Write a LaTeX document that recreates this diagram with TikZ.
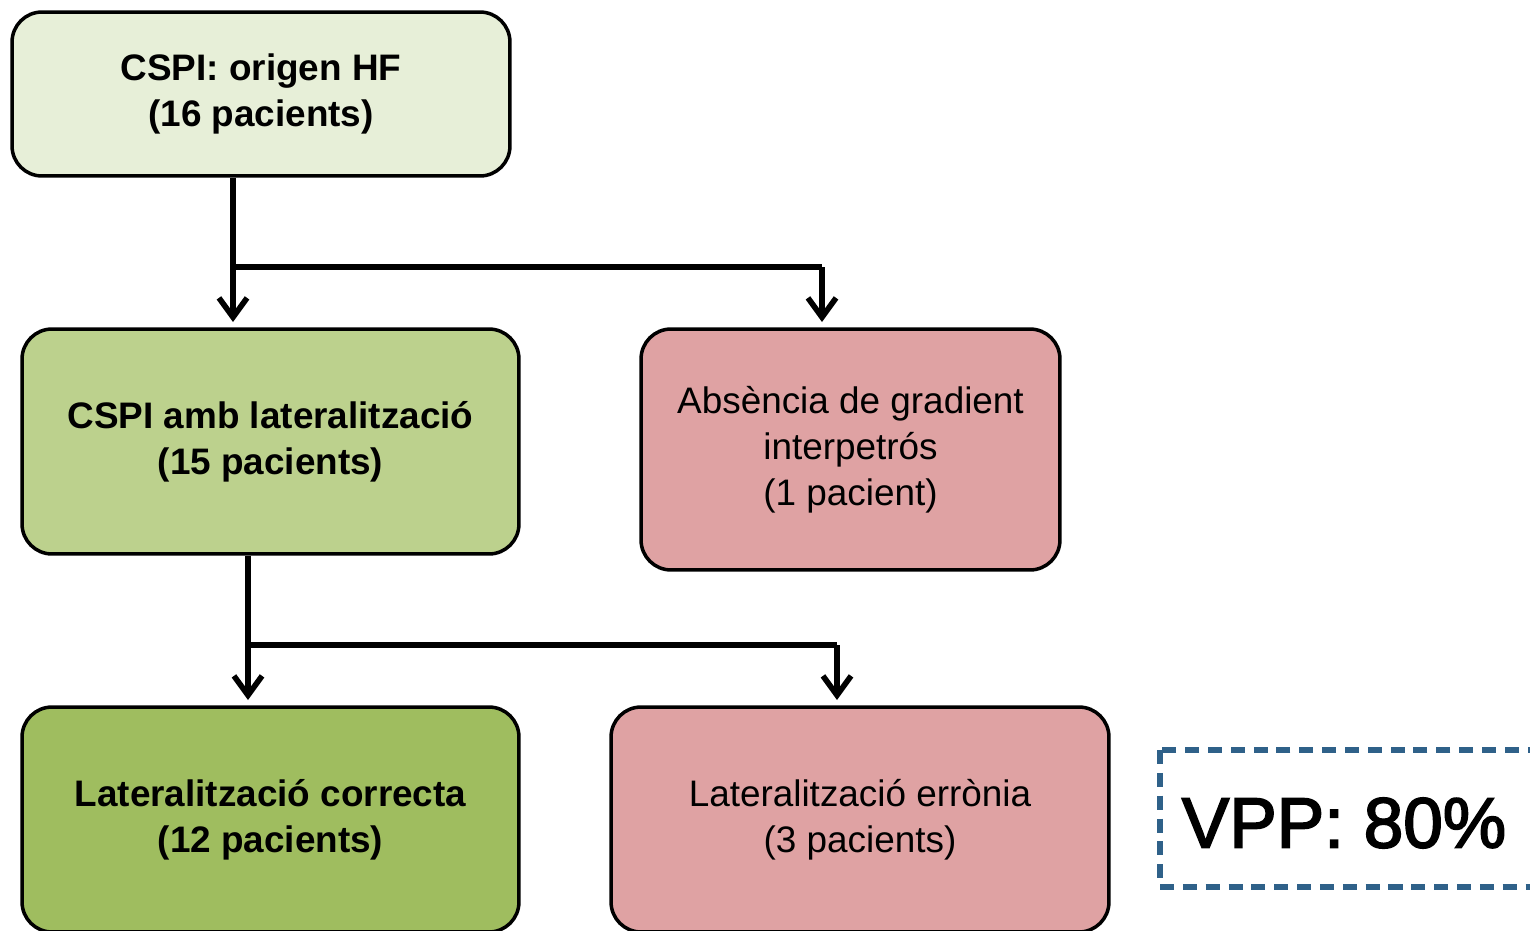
\documentclass[tikz,border=0pt]{standalone}
\usepackage{fontspec}
\setmainfont{Liberation Sans}
\usetikzlibrary{arrows.meta}
\definecolor{palegreen}{HTML}{E7EFD8}
\definecolor{midgreen}{HTML}{BCD18D}
\definecolor{darkgreen}{HTML}{9FBD5F}
\definecolor{rose}{HTML}{DFA2A3}
\definecolor{vppblue}{HTML}{2F6189}
\begin{document}
\begin{tikzpicture}[x=0.02cm,y=-0.02cm,
    box/.style={draw,line width=2pt,rounded corners=0.6cm,align=center,
      font=\fontsize{21}{26.2}\selectfont},
    arr/.style={-{Straight Barb[length=11pt,width=16pt]},shorten >=3pt}]
      \useasboundingbox (0,0) rectangle (1530,930);
      \draw
        (261,94) node[box,fill=palegreen,minimum width=9.96cm,minimum height=3.28cm] (hf)
          {\bfseries CSPI: origen HF\\\bfseries (16 pacients)}
        (270.5,441.5) node[box,fill=midgreen,minimum width=9.94cm,minimum height=4.5cm] (lat)
          {\bfseries CSPI amb lateralització\\\bfseries (15 pacients)}
        (850.5,449.5) node[box,fill=rose,minimum width=8.38cm,minimum height=4.82cm] (abs)
          {Absència de gradient\\interpetrós\\(1 pacient)}
        (270.5,819.5) node[box,fill=darkgreen,minimum width=9.94cm,minimum height=4.5cm] (ok)
          {\bfseries Lateralització correcta\\\bfseries (12 pacients)}
        (860,819.5) node[box,fill=rose,minimum width=9.96cm,minimum height=4.5cm] (err)
          {Lateralització errònia\\(3 pacients)}
        (1344,823) node[inner sep=0pt,
          font=\fontsize{40.5}{48}\selectfont\addfontfeature{FakeBold=2.5}] (vpp)
          {VPP: 80\%};
      \draw[vppblue,line width=3pt,dash pattern=on 8pt off 5pt] (1160,750) rectangle (1545,887);
      \coordinate (s1) at (233,267);
      \coordinate (e1) at (822,267);
      \coordinate (s2) at (248,645);
      \coordinate (e2) at (837,645);
      \begin{scope}[line width=3.2pt]
        \draw (s1) -- (e1);
        \draw[arr] (hf.south -| s1) -- (lat.north -| s1);
        \draw[arr] (e1) -- (abs.north -| e1);
        \draw (s2) -- (e2);
        \draw[arr] (lat.south -| s2) -- (ok.north -| s2);
        \draw[arr] (e2) -- (err.north -| e2);
      \end{scope}
    \end{tikzpicture}
\end{document}
